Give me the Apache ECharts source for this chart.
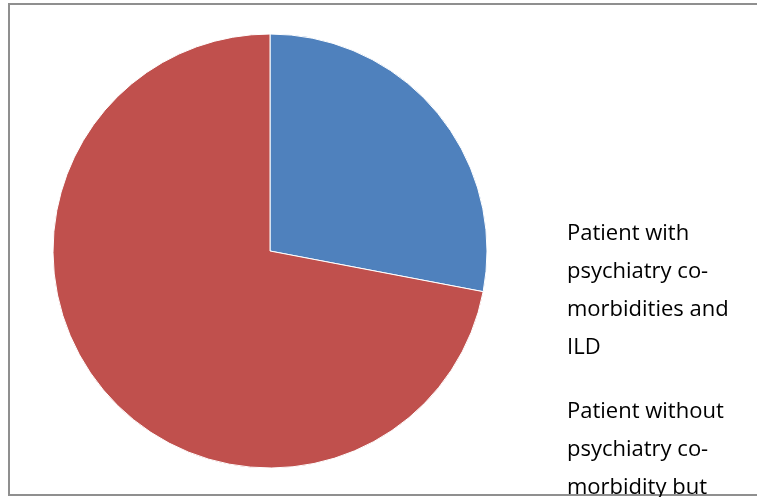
<!DOCTYPE html>
<html>
<head>
<meta charset="utf-8">
<script src="https://cdn.jsdelivr.net/npm/echarts@6/dist/echarts.min.js"></script>
<style>
  html, body { margin: 0; padding: 0; background: #fff; }
  #chart { width: 757px; height: 497px; }
</style>
</head>
<body>
<div id="chart"></div>
<script>
// data
const categories = [
  'Patient with psychiatry co-morbidities and ILD',
  'Patient without psychiatry co-morbidity but ILD'
];
const values = [28, 72];
const colors = ['#4F81BD', '#C0504D'];
// how the legend text wraps in the picture
const legendLines = [
  ['Patient with', 'psychiatry co-', 'morbidities and', 'ILD'],
  ['Patient without', 'psychiatry co-', 'morbidity but', 'ILD']
];

const chart = echarts.init(document.getElementById('chart'));

chart.setOption({
  animation: false,
  color: colors,
  graphic: [
    {
      type: 'rect',
      shape: { x: 9, y: 4, width: 760, height: 491 },
      style: { fill: 'none', stroke: '#8f8f8f', lineWidth: 2 },
      silent: true
    }
  ],
  legend: {
    orient: 'vertical',
    left: 557,
    top: 210,
    height: 800,
    icon: 'none',
    itemWidth: 0,
    itemGap: 26,
    selectedMode: false,
    formatter: function (name) {
      return legendLines[categories.indexOf(name)].join('\n');
    },
    textStyle: {
      fontFamily: 'Open Sans',
      fontSize: 22,
      lineHeight: 38,
      color: '#000'
    },
    data: categories
  },
  series: [
    {
      type: 'pie',
      center: [270, 251],
      radius: 217,
      startAngle: 90,
      clockwise: true,
      label: { show: false },
      labelLine: { show: false },
      emphasis: { disabled: true },
      itemStyle: { borderColor: '#fff', borderWidth: 1 },
      data: categories.map((c, i) => ({ name: c, value: values[i] }))
    }
  ]
});
</script>
</body>
</html>
